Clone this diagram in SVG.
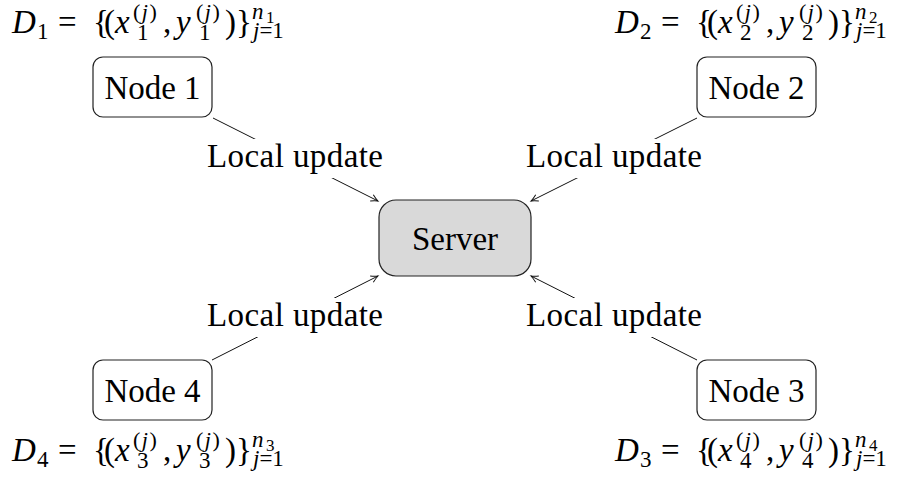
<svg xmlns="http://www.w3.org/2000/svg" width="900" height="483" viewBox="0 0 900 483">
<defs>
<style>
.t{font-size:33px}
.lbl{font-size:33px;text-anchor:middle}
.it{font-style:italic}
.s{font-size:23px}
.sp{font-size:22px;letter-spacing:1.5px}
.ss{font-size:17px}
.node rect{fill:#fff;stroke:#222;stroke-width:1.2}
.server rect{fill:#d9d9d9;stroke:#222;stroke-width:1.2}
.edge{stroke:#111;stroke-width:1;fill:none}
.lblbg{fill:#fff}
</style>
<marker id="arr" markerWidth="12" markerHeight="12" viewBox="-10 -6 12 12" refX="0" refY="0" orient="auto" markerUnits="userSpaceOnUse">
<path d="M-7,-3.5 Q-3,-1 0,0 Q-3,1 -7,3.5" fill="none" stroke="#111" stroke-width="1"/>
</marker>
</defs>
<rect width="900" height="483" fill="#fff"/>

<g id="connectors">
<line class="edge" x1="213" y1="118" x2="378" y2="201" marker-end="url(#arr)"/>
<line class="edge" x1="697" y1="118" x2="531" y2="201" marker-end="url(#arr)"/>
<line class="edge" x1="212" y1="360" x2="378" y2="276" marker-end="url(#arr)"/>
<line class="edge" x1="697" y1="360" x2="531" y2="276" marker-end="url(#arr)"/>
<rect class="lblbg" x="203" y="139" width="186" height="39"/>
<rect class="lblbg" x="521" y="139" width="186" height="39"/>
<rect class="lblbg" x="203" y="298" width="186" height="39"/>
<rect class="lblbg" x="521" y="298" width="186" height="39"/>
<text class="lbl" x="295" y="167" font-family="Liberation Serif" textLength="176">Local update</text>
<text class="lbl" x="614" y="167" font-family="Liberation Serif" textLength="176">Local update</text>
<text class="lbl" x="295" y="326" font-family="Liberation Serif" textLength="176">Local update</text>
<text class="lbl" x="614" y="326" font-family="Liberation Serif" textLength="176">Local update</text>
</g>

<g id="server" class="server">
<rect x="379" y="200" width="152" height="76" rx="17" ry="17"/>
<text class="lbl" x="455" y="250" font-family="Liberation Serif">Server</text>
</g>

<g id="node1" class="node">
<rect x="93" y="57" width="119" height="60" rx="10" ry="10"/>
<text class="lbl" x="152.5" y="99" font-family="Liberation Serif">Node 1</text>
</g>
<g id="node2" class="node">
<rect x="697" y="57" width="119" height="60" rx="10" ry="10"/>
<text class="lbl" x="756.5" y="99" font-family="Liberation Serif">Node 2</text>
</g>
<g id="node4" class="node">
<rect x="93" y="360" width="119" height="60" rx="10" ry="10"/>
<text class="lbl" x="152.5" y="402" font-family="Liberation Serif">Node 4</text>
</g>
<g id="node3" class="node">
<rect x="697" y="360" width="119" height="60" rx="10" ry="10"/>
<text class="lbl" x="756.5" y="402" font-family="Liberation Serif">Node 3</text>
</g>

<g id="d1" transform="translate(0,33)">
<text class="t" font-family="Liberation Serif"><tspan class="it" x="12" y="0">D</tspan><tspan class="s" x="37" y="6">1</tspan><tspan x="58" y="0">=</tspan><tspan x="93" y="0">{</tspan><tspan x="104" y="0">(</tspan><tspan class="it" x="115" y="0">x</tspan><tspan class="sp" x="133" y="-14">(<tspan class="it">j</tspan>)</tspan><tspan class="s" x="137" y="7">1</tspan><tspan x="163" y="0">,</tspan><tspan class="it" x="176" y="0">y</tspan><tspan class="sp" x="196" y="-14">(<tspan class="it">j</tspan>)</tspan><tspan class="s" x="199" y="7">1</tspan><tspan x="225" y="0">)</tspan><tspan x="236" y="0">}</tspan><tspan class="s it" x="252" y="-14">n</tspan><tspan class="ss" x="266" y="-10">1</tspan><tspan class="s" x="253" y="5"><tspan class="it">j</tspan>=1</tspan></text>
</g>
<g id="d2" transform="translate(603,33)">
<text class="t" font-family="Liberation Serif"><tspan class="it" x="12" y="0">D</tspan><tspan class="s" x="37" y="6">2</tspan><tspan x="58" y="0">=</tspan><tspan x="93" y="0">{</tspan><tspan x="104" y="0">(</tspan><tspan class="it" x="115" y="0">x</tspan><tspan class="sp" x="133" y="-14">(<tspan class="it">j</tspan>)</tspan><tspan class="s" x="137" y="7">2</tspan><tspan x="163" y="0">,</tspan><tspan class="it" x="176" y="0">y</tspan><tspan class="sp" x="196" y="-14">(<tspan class="it">j</tspan>)</tspan><tspan class="s" x="199" y="7">2</tspan><tspan x="225" y="0">)</tspan><tspan x="236" y="0">}</tspan><tspan class="s it" x="252" y="-14">n</tspan><tspan class="ss" x="266" y="-10">2</tspan><tspan class="s" x="253" y="5"><tspan class="it">j</tspan>=1</tspan></text>
</g>
<g id="d4" transform="translate(0,461)">
<text class="t" font-family="Liberation Serif"><tspan class="it" x="12" y="0">D</tspan><tspan class="s" x="37" y="6">4</tspan><tspan x="58" y="0">=</tspan><tspan x="93" y="0">{</tspan><tspan x="104" y="0">(</tspan><tspan class="it" x="115" y="0">x</tspan><tspan class="sp" x="133" y="-14">(<tspan class="it">j</tspan>)</tspan><tspan class="s" x="137" y="7">3</tspan><tspan x="163" y="0">,</tspan><tspan class="it" x="176" y="0">y</tspan><tspan class="sp" x="196" y="-14">(<tspan class="it">j</tspan>)</tspan><tspan class="s" x="199" y="7">3</tspan><tspan x="225" y="0">)</tspan><tspan x="236" y="0">}</tspan><tspan class="s it" x="252" y="-14">n</tspan><tspan class="ss" x="266" y="-10">3</tspan><tspan class="s" x="253" y="5"><tspan class="it">j</tspan>=1</tspan></text>
</g>
<g id="d3" transform="translate(603,461)">
<text class="t" font-family="Liberation Serif"><tspan class="it" x="12" y="0">D</tspan><tspan class="s" x="37" y="6">3</tspan><tspan x="58" y="0">=</tspan><tspan x="93" y="0">{</tspan><tspan x="104" y="0">(</tspan><tspan class="it" x="115" y="0">x</tspan><tspan class="sp" x="133" y="-14">(<tspan class="it">j</tspan>)</tspan><tspan class="s" x="137" y="7">4</tspan><tspan x="163" y="0">,</tspan><tspan class="it" x="176" y="0">y</tspan><tspan class="sp" x="196" y="-14">(<tspan class="it">j</tspan>)</tspan><tspan class="s" x="199" y="7">4</tspan><tspan x="225" y="0">)</tspan><tspan x="236" y="0">}</tspan><tspan class="s it" x="252" y="-14">n</tspan><tspan class="ss" x="266" y="-10">4</tspan><tspan class="s" x="253" y="5"><tspan class="it">j</tspan>=1</tspan></text>
</g>
</svg>
